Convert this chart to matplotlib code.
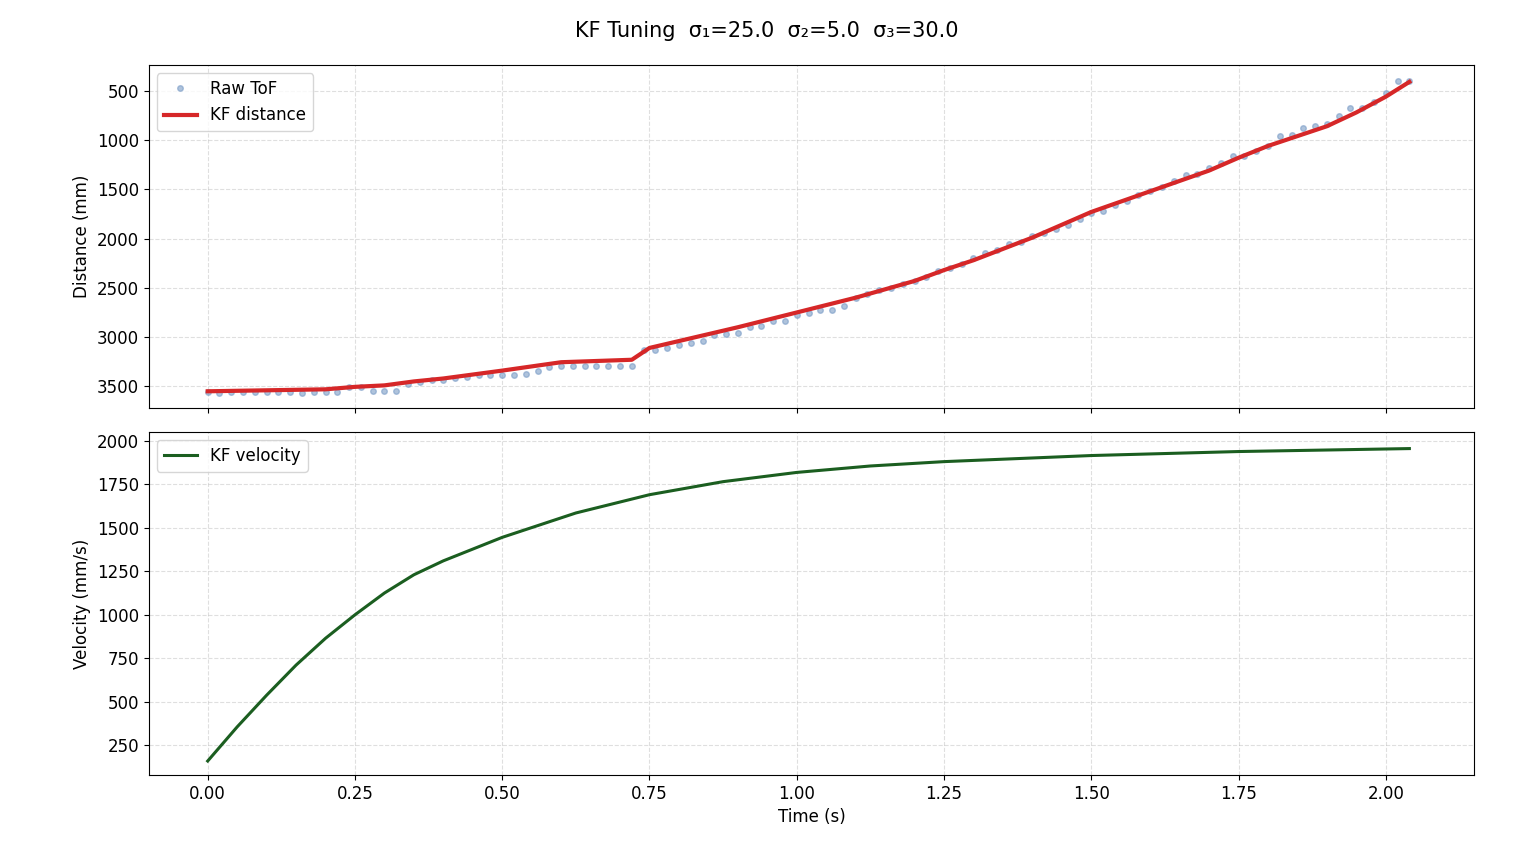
import matplotlib.pyplot as plt
import numpy as np

# raw ToF samples, every 0.02 s
raw_tof = [3560, 3565, 3560, 3560, 3560, 3560, 3560, 3560, 3565, 3560, 3560, 3560,
           3510, 3510, 3550, 3550, 3550, 3480, 3460, 3440, 3440, 3420, 3400, 3380,
           3380, 3380, 3380, 3370, 3340, 3300, 3290, 3290, 3290, 3290, 3290, 3290,
           3290, 3130, 3130, 3110, 3080, 3060, 3040, 2980, 2970, 2960, 2900, 2890,
           2840, 2840, 2780, 2760, 2730, 2720, 2680,
           2600, 2560, 2520, 2500, 2460, 2430, 2390, 2330, 2300, 2260, 2200, 2150,
           2120, 2060, 2030, 1970, 1940, 1900, 1860, 1800, 1740, 1720, 1660, 1620,
           1560, 1520, 1480, 1420, 1360, 1340, 1280, 1230, 1160, 1160, 1110, 1060,
           960, 950, 880, 860, 840, 760, 680, 670, 610, 520, 400, 400]
raw_t = np.arange(len(raw_tof)) * 0.02

kf_t = [0.0, 0.2, 0.25, 0.3, 0.35, 0.4, 0.5, 0.6, 0.72, 0.75, 0.8, 0.9, 1.0, 1.1,
        1.2, 1.25, 1.3, 1.4, 1.5, 1.6, 1.7, 1.75, 1.8, 1.9, 1.95, 2.0, 2.04]
kf_dist = [3550, 3530, 3505, 3490, 3450, 3420, 3340, 3255, 3230, 3110, 3040, 2900,
           2750, 2600, 2430, 2320, 2220, 1990, 1730, 1520, 1310, 1180, 1060, 860,
           720, 560, 410]

vel_t = [0.0, 0.05, 0.1, 0.15, 0.2, 0.25, 0.3, 0.35, 0.4, 0.5, 0.625, 0.75, 0.875,
         1.0, 1.125, 1.25, 1.5, 1.75, 2.04]
kf_vel = [160, 356, 538, 711, 865, 1000, 1125, 1230, 1310, 1445, 1585, 1690, 1765,
          1818, 1855, 1880, 1915, 1938, 1955]

fig, (ax1, ax2) = plt.subplots(2, 1, figsize=(15.34, 8.46), dpi=100, sharex=True)
fig.subplots_adjust(left=0.097, right=0.961, top=0.923, bottom=0.084, hspace=0.07)
fig.suptitle('KF Tuning  σ₁=25.0  σ₂=5.0  σ₃=30.0', fontsize=15, y=0.975)

ax1.plot(raw_t, raw_tof, 'o', color='#7a9cc6', alpha=0.6, markersize=4, label='Raw ToF')
ax1.plot(kf_t, kf_dist, color='#d62728', linewidth=3, label='KF distance')
ax1.set_ylim(3720, 240)
ax1.set_yticks([500, 1000, 1500, 2000, 2500, 3000, 3500])
ax1.set_ylabel('Distance (mm)', fontsize=12)
ax1.grid(True, linestyle='--', alpha=0.4)
ax1.legend(loc='upper left', fontsize=12)
ax1.tick_params(labelsize=12)

ax2.plot(vel_t, kf_vel, color='#1b5e20', linewidth=2.2, label='KF velocity')
ax2.set_ylim(80, 2050)
ax2.set_yticks([250, 500, 750, 1000, 1250, 1500, 1750, 2000])
ax2.set_ylabel('Velocity (mm/s)', fontsize=12)
ax2.set_xlabel('Time (s)', fontsize=12)
ax2.set_xlim(-0.1, 2.15)
ax2.set_xticks([0, 0.25, 0.5, 0.75, 1.0, 1.25, 1.5, 1.75, 2.0])
ax2.grid(True, linestyle='--', alpha=0.4)
ax2.legend(loc='upper left', fontsize=12)
ax2.tick_params(labelsize=12)

plt.savefig('out.png', dpi=100)
